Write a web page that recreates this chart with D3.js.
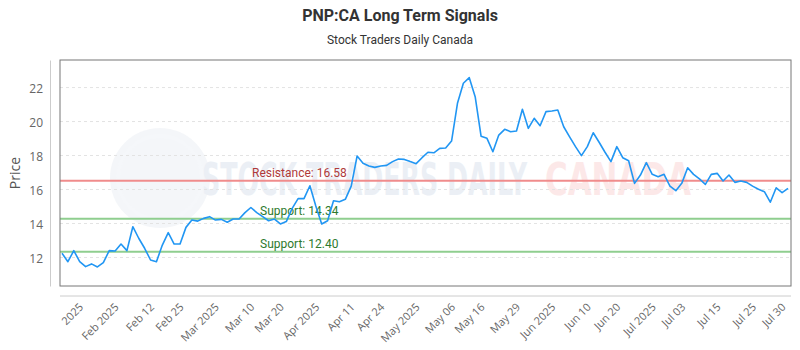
<!DOCTYPE html>
<html>
<head>
<meta charset="utf-8">
<script src="https://cdn.jsdelivr.net/npm/d3@7"></script>
<style>
  body { margin: 0; background: #fff; }
  svg { display: block; }
</style>
</head>
<body>
<div id="chart"></div>
<script>
// closing prices, one per session shown on the chart
const prices = [
  12.31, 11.81, 12.46, 11.81, 11.52, 11.68, 11.50, 11.75, 12.46, 12.44,
  12.85, 12.46, 13.87, 13.19, 12.60, 11.91, 11.81, 12.79, 13.52, 12.85,
  12.85, 13.83, 14.26, 14.20, 14.36, 14.46, 14.26, 14.30, 14.13, 14.32,
  14.32, 14.70, 15.00, 14.70, 14.46, 14.22, 14.32, 14.03, 14.17, 14.95,
  15.52, 15.52, 16.28, 15.09, 14.03, 14.22, 15.40, 15.34, 15.48, 16.26,
  18.03, 17.60, 17.44, 17.36, 17.44, 17.48, 17.70, 17.85, 17.83, 17.70,
  17.58, 17.93, 18.25, 18.22, 18.48, 18.50, 18.91, 21.13, 22.31, 22.64,
  21.52, 19.20, 19.07, 18.28, 19.26, 19.60, 19.46, 19.50, 20.78, 19.66,
  20.25, 19.81, 20.64, 20.68, 20.74, 19.75, 19.16, 18.58, 18.05, 18.58,
  19.40, 18.84, 18.25, 17.70, 18.58, 17.93, 17.75, 16.42, 16.91, 17.64,
  16.95, 16.81, 16.95, 16.26, 15.99, 16.42, 17.34, 16.95, 16.68, 16.36,
  16.95, 17.01, 16.56, 16.91, 16.48, 16.56, 16.48, 16.26, 16.07, 15.93,
  15.31, 16.16, 15.87, 16.13
];

const tickLabels = ["2025", "Feb 2025", "Feb 12", "Feb 25", "Mar 2025", "Mar 10", "Mar 20",
  "Apr 2025", "Apr 11", "Apr 24", "May 2025", "May 06", "May 16", "May 29", "Jun 2025",
  "Jun 10", "Jun 20", "Jul 2025", "Jul 03", "Jul 15", "Jul 25", "Jul 30"];
const tickIndex = [3, 9, 15, 20, 26, 32, 37, 43, 49, 54, 60, 66, 71, 77, 83, 89, 94, 100, 105, 111, 117, 122];

const yTicks = [12, 14, 16, 18, 20, 22];

const levels = [
  {name: "Resistance", value: 16.58},
  {name: "Support", value: 14.34},
  {name: "Support", value: 12.40}
];

const width = 800, height = 350;
const plot = {left: 60, right: 791, top: 60, bottom: 286};

const svg = d3.select("#chart").append("svg")
  .attr("width", width)
  .attr("height", height)
  .style("font-family", "'Open Sans', sans-serif");

// titles
svg.append("text")
  .attr("x", width / 2).attr("y", 21)
  .attr("text-anchor", "middle")
  .style("font-family", "Roboto, sans-serif")
  .style("font-size", "16px").style("font-weight", "bold")
  .attr("fill", "#333")
  .text("PNP:CA Long Term Signals");

svg.append("text")
  .attr("x", width / 2).attr("y", 44)
  .attr("text-anchor", "middle")
  .style("font-family", "Roboto, sans-serif")
  .style("font-size", "12px")
  .attr("fill", "#333")
  .text("Stock Traders Daily Canada");

const x = d3.scaleLinear()
  .domain([0, prices.length - 1])
  .range([plot.left + 2, plot.right - 3]);

const y = d3.scaleLinear()
  .domain([10.38, 23.68])
  .range([plot.bottom, plot.top]);

// watermark
const wm = svg.append("g");
wm.append("circle")
  .attr("cx", 160).attr("cy", 178).attr("r", 50)
  .attr("fill", "#eff2f7").attr("opacity", 0.7);
wm.append("circle")
  .attr("cx", 160).attr("cy", 178).attr("r", 42)
  .attr("fill", "none").attr("stroke", "#f5f7fa").attr("stroke-width", 4);
wm.append("text")
  .attr("x", 202).attr("y", 195)
  .attr("textLength", 325).attr("lengthAdjust", "spacingAndGlyphs")
  .style("font-family", "'DejaVu Sans Condensed', sans-serif")
  .style("font-size", "45px").style("font-weight", "bold")
  .attr("fill", "#ebeff5")
  .text("STOCK TRADERS DAILY");
wm.append("text")
  .attr("x", 545).attr("y", 195)
  .attr("textLength", 146).attr("lengthAdjust", "spacingAndGlyphs")
  .style("font-family", "'DejaVu Sans Condensed', sans-serif")
  .style("font-size", "45px").style("font-weight", "bold")
  .attr("fill", "#fce8e8")
  .text("CANADA");

// grid
svg.append("g")
  .selectAll("line")
  .data(yTicks)
  .join("line")
    .attr("x1", plot.left).attr("x2", plot.right)
    .attr("y1", d => y(d) - 1).attr("y2", d => y(d) - 1)
    .attr("stroke", "#e3e3e3")
    .attr("stroke-dasharray", "3,3");

// y axis
const yAxis = svg.append("g")
  .attr("transform", `translate(${plot.left - 10},0)`)
  .call(d3.axisLeft(y).tickValues(yTicks).tickSize(0).tickPadding(7));
yAxis.select(".domain").attr("stroke", "#ccc");
yAxis.selectAll("text").attr("fill", "#666").style("font-size", "12px")
  .style("font-family", "'Open Sans', sans-serif");

svg.append("text")
  .attr("transform", `translate(20,${(plot.top + plot.bottom) / 2}) rotate(-90)`)
  .attr("text-anchor", "middle")
  .style("font-size", "14px")
  .attr("fill", "#555")
  .text("Price");

// x axis
const xAxis = svg.append("g")
  .attr("transform", `translate(0,${plot.bottom + 10})`)
  .call(d3.axisBottom(x).tickValues(tickIndex).tickSize(0)
    .tickFormat((d, i) => tickLabels[i]));
xAxis.select(".domain").attr("stroke", "#ccc")
  .attr("d", `M${plot.left},0H${plot.right}`);
xAxis.selectAll("text")
  .attr("fill", "#666")
  .style("font-size", "11px")
  .style("font-family", "'Open Sans', sans-serif")
  .attr("text-anchor", "end")
  .attr("dy", "0.35em")
  .attr("transform", "translate(-1,7) rotate(-45)");

// support / resistance
const lv = svg.append("g").selectAll("g").data(levels).join("g");
lv.append("line")
  .attr("x1", plot.left).attr("x2", plot.right)
  .attr("y1", d => y(d.value)).attr("y2", d => y(d.value))
  .attr("stroke", d => d.name === "Resistance" ? "#f08c8c" : "#8fce8f")
  .attr("stroke-width", 2);
lv.append("text")
  .attr("x", d => d.name === "Resistance" ? 252 : 260)
  .attr("y", d => y(d.value) - 4)
  .style("font-family", "Roboto, sans-serif")
  .style("font-size", "12px")
  .attr("fill", d => d.name === "Resistance" ? "#b03a3a" : "#2e7a2e")
  .text(d => `${d.name}: ${d.value.toFixed(2)}`);

// price line
svg.append("path")
  .datum(prices)
  .attr("fill", "none")
  .attr("stroke", "#2196f3")
  .attr("stroke-width", 1.6)
  .attr("stroke-linejoin", "round")
  .attr("d", d3.line().x((d, i) => x(i)).y(d => y(d)));

// frame
svg.append("rect")
  .attr("x", plot.left).attr("y", plot.top)
  .attr("width", plot.right - plot.left).attr("height", plot.bottom - plot.top)
  .attr("fill", "none").attr("stroke", "#777").attr("stroke-width", 1);
</script>
</body>
</html>
